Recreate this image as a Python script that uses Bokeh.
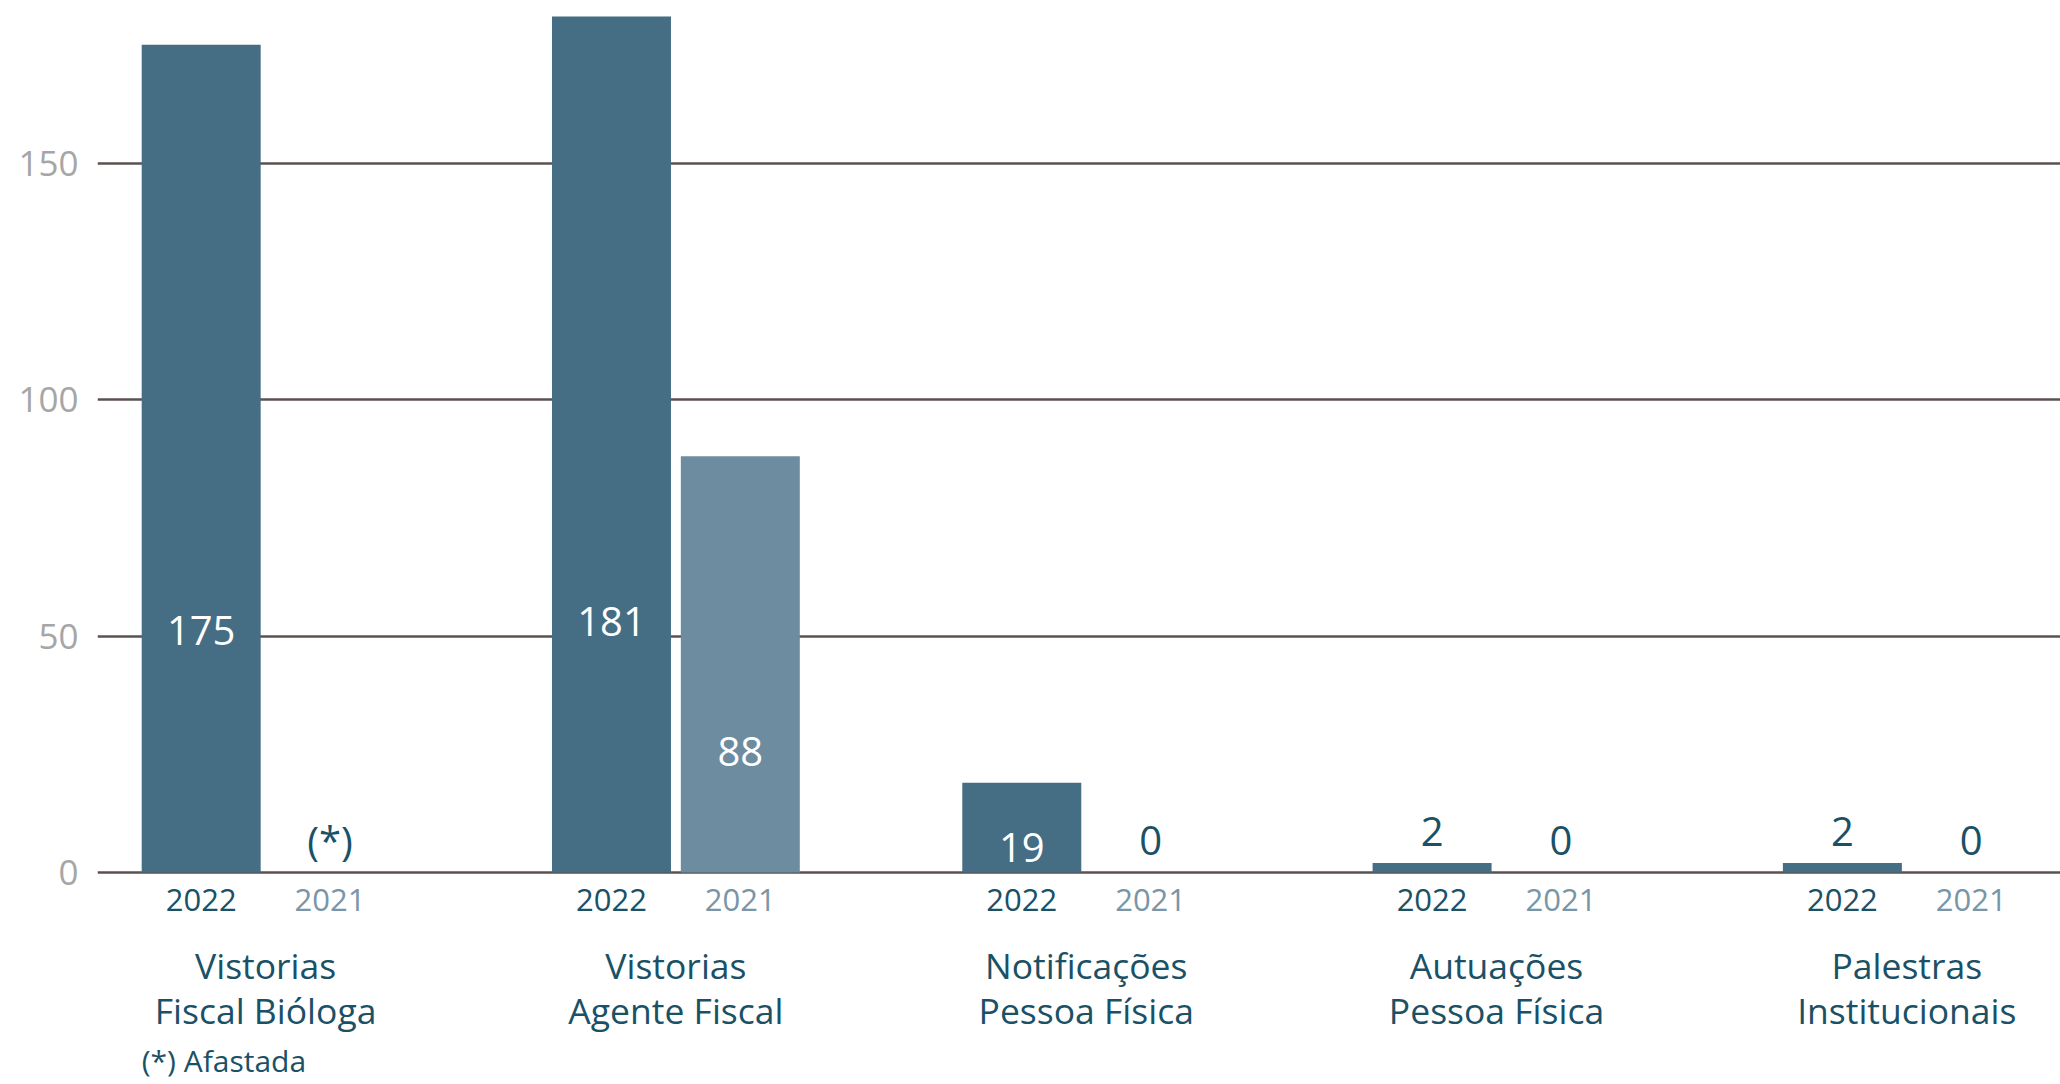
from bokeh.plotting import figure
from bokeh.models import Range1d, FixedTicker
from bokeh.core.properties import value
from bokeh.embed import file_html
from bokeh.resources import INLINE

# ---- data ----
categories = ["Vistorias\nFiscal Bióloga", "Vistorias\nAgente Fiscal",
              "Notificações\nPessoa Física", "Autuações\nPessoa Física",
              "Palestras\nInstitucionais"]
years = ["2022", "2021"]
values_2022 = [175, 181, 19, 2, 2]
values_2021 = [None, 88, 0, 0, 0]   # None = (*) Afastada
y_ticks = [0, 50, 100, 150]
footnote = "(*) Afastada"

# ---- style ----
FONT = "Open Sans"
C2022 = "#456d84"
C2021 = "#6e8c9f"
TEAL = "#1a5166"
C2021_TXT = "#7896a8"
GRID = "#5b5250"
TICK_TXT = "#a6a6a6"
OFF = 0.157
BW = 0.29

p = figure(width=2060, height=1084,
           x_range=Range1d(-0.4097, 4.3746), y_range=Range1d(-44.82, 184.36),
           min_border_left=97, min_border_right=0, min_border_top=0, min_border_bottom=0,
           x_axis_location=None, toolbar_location=None, output_backend="svg",
           outline_line_color=None)
p.background_fill_color = "white"
p.border_fill_color = "white"

p.xgrid.visible = False
p.ygrid.ticker = FixedTicker(ticks=y_ticks)
p.ygrid.grid_line_color = GRID
p.ygrid.grid_line_width = 2.5

ax = p.yaxis[0]
ax.ticker = FixedTicker(ticks=y_ticks)
ax.axis_line_color = None
ax.major_tick_line_color = None
ax.minor_tick_line_color = None
ax.major_tick_out = 0
ax.major_tick_in = 0
ax.major_label_standoff = 19
ax.major_label_text_font = FONT
ax.major_label_text_font_size = "35px"
ax.major_label_text_color = TICK_TXT

n = len(categories)
x22 = [i - OFF for i in range(n)]
x21 = [i + OFF for i in range(n)]

# bars
p.vbar(x=x22, top=values_2022, width=BW, bottom=0, fill_color=C2022, line_color=None)
b21x = [x for x, v in zip(x21, values_2021) if v]
b21v = [v for v in values_2021 if v]
p.vbar(x=b21x, top=b21v, width=BW, bottom=0, fill_color=C2021, line_color=None)

# value labels
in_x, in_y, in_t = [], [], []
out_x, out_y, out_t = [], [], []
for xs, vals in ((x22, values_2022), (x21, values_2021)):
    for x, v in zip(xs, vals):
        if v is None:
            out_x.append(x); out_y.append(0); out_t.append("(*)")
        elif v >= 10:
            in_x.append(x); in_y.append(v * 0.295); in_t.append(str(v))
        else:
            out_x.append(x); out_y.append(v); out_t.append(str(v))

p.text(x=in_x, y=in_y, text=in_t, text_align="center", text_baseline="alphabetic",
       y_offset=2, text_color="white", text_font=value(FONT), text_font_size="40px")
p.text(x=out_x, y=out_y, text=out_t, text_align="center", text_baseline="alphabetic",
       y_offset=-32, text_color=TEAL, text_font=value(FONT), text_font_size="40px")

# year labels
p.text(x=x22, y=[0] * n, text=[years[0]] * n, text_align="center", text_baseline="alphabetic",
       y_offset=27, text_color=TEAL, text_font=value(FONT), text_font_size="31px")
p.text(x=x21, y=[0] * n, text=[years[1]] * n, text_align="center", text_baseline="alphabetic",
       y_offset=27, text_color=C2021_TXT, text_font=value(FONT), text_font_size="31px")

# category labels (two lines)
line1 = [c.split("\n")[0] for c in categories]
line2 = [c.split("\n")[1] for c in categories]
gx = list(range(n))
p.text(x=gx, y=[0] * n, text=line1, text_align="center", text_baseline="alphabetic",
       y_offset=92, text_color=TEAL, text_font=value(FONT), text_font_size="35.5px")
p.text(x=gx, y=[0] * n, text=line2, text_align="center", text_baseline="alphabetic",
       y_offset=137, text_color=TEAL, text_font=value(FONT), text_font_size="35.5px")

# footnote
p.text(x=[x22[0] - BW / 2], y=[0], text=[footnote], text_align="left", text_baseline="alphabetic",
       y_offset=188, text_color=TEAL, text_font=value(FONT), text_font_size="30px")

open("out.html", "w").write(file_html(p, INLINE))
